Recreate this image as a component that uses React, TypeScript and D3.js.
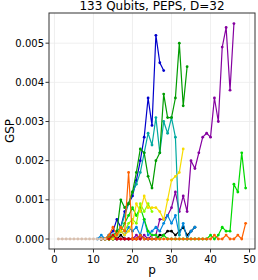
import React from 'react';
import * as d3 from 'd3';

// GSP values in units of 1e-3, each series starts at its own p
const blackStart = 12;
const blackGsp = [0, 0, 0, 0, 0, 0.1, 0, 0, 0, 0, 0.1, 0, 0, 0, 0, 0.1, 0.1, 0.2, 0.2, 0.1, 0.2, 0.3, 0.1, 0.2, 0.3];

const purpleStart = 12;
const purpleGsp = [0, 0, 0, 0, 0, 0, 0, 0, 0, 0.1, 0, 0.1, 0, 0.1, 0.1, 0.5, 0.5, 0.6, 0.8, 1.2, 0.7, 1.1, 0.7, 2.0, 1.8, 2.2, 2.6, 2.7, 2.6, 3.6, 3.0, 4.9, 5.4, 3.8, 5.5];

const blueStart = 12;
const blueGsp = [0, 0, 0.1, 0.2, 0.5, 0.3, 0.7, 0.9, 1.1, 1.5, 2.0, 2.6, 3.6, 2.9, 5.2, 4.5, 4.3];

const skyStart = 11;
const skyGsp = [0, 0.1, 0, 0.1, 0, 0.1, 0.2, 0.1, 0.3, 0.2, 0.3, 0.1, 0.5, 0.1, 0.2, 0.3, 0.2, 0.4, 0.6, 0.4, 0.6, 0.1, 0.4, 0, 0.2, 0.3];

const tealStart = 12;
const tealGsp = [0, 0, 0, 0.1, 0.2, 0.3, 0.6, 0.9, 1.2, 1.4, 1.7, 2.2, 2.7, 2.4, 3.1, 2.2, 3.0, 2.7, 3.1, 2.6, 0.1];

const greenStart = 12;
const greenGsp = [0, 0, 0.1, 0, 0.2, 1.0, 0.8, 0.9, 1.2, 1.7, 2.3, 2.2, 1.6, 1.3, 2.0, 2.2, 3.7, 3.1, 3.1, 3.6, 5.0, 3.4, 4.4];

const limeStart = 12;
const limeGsp = [0, 0, 0, 0.1, 0.1, 0.2, 0.4, 0.6, 0.8, 0.6, 0.8, 0.5, 0.2, 0.1, 0.1, 0, 0.1, 0, 0, 0, 0, 0, 0, 0, 0, 0, 0, 0, 0.1, 0, 0.1, 0.3, 0.2, 0.2, 1.4, 1.2, 2.2, 1.3];

const chartreuseStart = 13;
const chartreuseGsp = [0, 0, 0.1, 0.1, 0.3, 0.2, 0.4, 0.5, 0.4, 0.9, 0.7, 0.9, 0.7];

const yellowStart = 13;
const yellowGsp = [0, 0, 0, 0.1, 0.2, 0.1, 0.2, 0.4, 0.9, 0.7, 1.1, 0.8, 0.8, 0.8, 0.7, 0.5, 1.0, 1.5, 1.6, 1.7, 2.3];

const orangeStart = 12;
const orangeGsp = [0, 0, 0.1, 0.3, 0.1, 0.3, 0.2, 1.7, 0, 0, 0.1, 0, 0, 0, 0, 0, 0, 0, 0, 0, 0, 0, 0, 0, 0, 0, 0, 0, 0, 0.1, 0, 0, 0.1, 0, 0, 0.1, 0, 0.4];

const redStart = 12;
const redGsp = [0, 0, 0, 0.1, 0, 0, 0, 0, 0, 0, 0];

const tanStart = 1;
const tanGsp = [0, 0, 0, 0, 0, 0, 0, 0, 0, 0, 0, 0, 0];

const xTicks = [0, 10, 20, 30, 40, 50];
const yTicks = [0, 0.001, 0.002, 0.003, 0.004, 0.005];

const series = [
  { color: '#000000', start: blackStart, values: blackGsp },
  { color: '#8500a0', start: purpleStart, values: purpleGsp },
  { color: '#0000cc', start: blueStart, values: blueGsp },
  { color: '#0088dd', start: skyStart, values: skyGsp },
  { color: '#00aaa0', start: tealStart, values: tealGsp },
  { color: '#009c00', start: greenStart, values: greenGsp },
  { color: '#00da00', start: limeStart, values: limeGsp },
  { color: '#88ff00', start: chartreuseStart, values: chartreuseGsp },
  { color: '#f7dc00', start: yellowStart, values: yellowGsp },
  { color: '#da0000', start: redStart, values: redGsp },
  { color: '#ff6100', start: orangeStart, values: orangeGsp },
  { color: '#d8bfae', start: tanStart, values: tanGsp },
];

const W = 258;
const H = 280;
const m = { left: 49, right: 255, top: 13, bottom: 249 };
const font = 'DejaVu Sans, sans-serif';

export default function App() {
  const x = d3.scaleLinear().domain([-1.4, 51.4]).range([m.left, m.right]);
  const y = d3.scaleLinear().domain([-0.000255, 0.00577]).range([m.bottom, m.top]);

  const line = d3.line<[number, number]>()
    .x(d => x(d[0]))
    .y(d => y(d[1]));

  const pts = (s: typeof series[number]) =>
    s.values.map((v, i) => [s.start + i, v * 1e-3] as [number, number]);

  return (
    <svg width={W} height={H} style={{ position: 'fixed', left: 0, top: 0, background: '#fff' }} fontFamily={font}>
      {/* grid */}
      {xTicks.map(t => (
        <line key={'gx' + t} x1={x(t)} x2={x(t)} y1={m.top} y2={m.bottom} stroke="#ebebeb" strokeWidth={0.8} />
      ))}
      {yTicks.map(t => (
        <line key={'gy' + t} x1={m.left} x2={m.right} y1={y(t)} y2={y(t)} stroke="#ebebeb" strokeWidth={0.8} />
      ))}

      {series.map((s, i) => (
        <g key={i}>
          <path d={line(pts(s)) || ''} fill="none" stroke={s.color} strokeWidth={1.2} strokeLinejoin="round" />
          {pts(s).map((d, j) => (
            <circle key={j} cx={x(d[0])} cy={y(d[1])} r={1.4} fill={s.color} />
          ))}
        </g>
      ))}

      {/* spines */}
      <rect x={m.left} y={m.top} width={m.right - m.left} height={m.bottom - m.top} fill="none" stroke="#333" strokeWidth={1} />

      {xTicks.map(t => (
        <g key={'tx' + t}>
          <line x1={x(t)} x2={x(t)} y1={m.bottom} y2={m.bottom + 3.5} stroke="#333" />
          <text x={x(t)} y={263} textAnchor="middle" fontSize={10} fill="#000">{t}</text>
        </g>
      ))}
      {yTicks.map(t => (
        <g key={'ty' + t}>
          <line x1={m.left - 3.5} x2={m.left} y1={y(t)} y2={y(t)} stroke="#333" />
          <text x={44} y={y(t)} dy="0.35em" textAnchor="end" fontSize={10} fill="#000">{t.toFixed(3)}</text>
        </g>
      ))}

      <text x={(m.left + m.right) / 2} y={10} textAnchor="middle" fontSize={12}>133 Qubits, PEPS, D=32</text>
      <text x={(m.left + m.right) / 2} y={274} textAnchor="middle" fontSize={12}>p</text>
      <text transform={`translate(14,${(m.top + m.bottom) / 2}) rotate(-90)`} textAnchor="middle" fontSize={12}>GSP</text>
    </svg>
  );
}
